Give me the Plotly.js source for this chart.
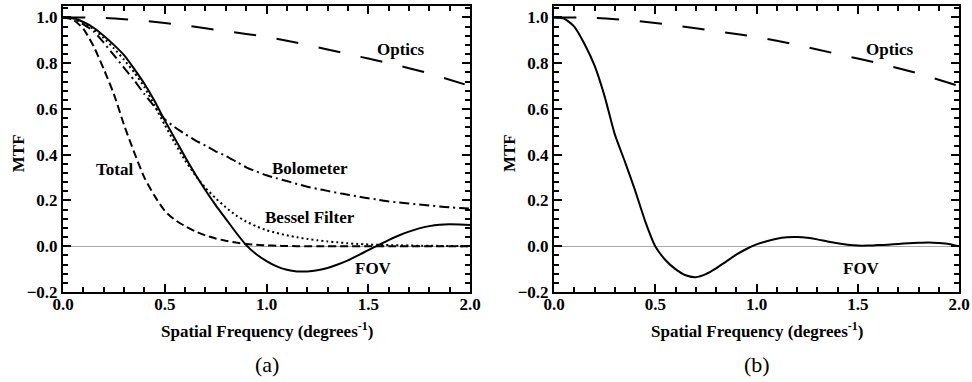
<!DOCTYPE html>
<html>
<head>
<meta charset="utf-8">
<script src="https://cdn.plot.ly/plotly-3.0.1.min.js"></script>
<style>html,body{margin:0;padding:0;background:#fff;}#wrap{position:relative;width:972px;height:382px;}#chartA{position:absolute;left:0;top:0;width:486px;height:382px;}#chartB{position:absolute;left:486px;top:0;width:486px;height:382px;}</style>
</head>
<body>
<div id="wrap"><div id="chartA"></div><div id="chartB"></div></div>
<script>
// ---- Panel (a) data ----
const freqA = [0,0.05,0.1,0.15,0.2,0.25,0.3,0.35,0.4,0.45,0.5,0.55,0.6,0.65,0.7,0.75,0.8,0.85,0.9,0.95,1.0,1.05,1.1,1.15,1.2,1.25,1.3,1.35,1.4,1.45,1.5,1.55,1.6,1.65,1.7,1.75,1.8,1.85,1.9,1.95,2.0];
const fovA = [1.0,0.998,0.98,0.955,0.92,0.88,0.835,0.775,0.71,0.635,0.55,0.47,0.39,0.315,0.245,0.18,0.12,0.06,0.005,-0.035,-0.065,-0.088,-0.103,-0.11,-0.11,-0.105,-0.095,-0.08,-0.062,-0.04,-0.017,0.005,0.027,0.047,0.064,0.078,0.088,0.094,0.096,0.095,0.093];
const besselA = [1.0,0.996,0.978,0.95,0.91,0.865,0.815,0.76,0.695,0.615,0.53,0.45,0.375,0.31,0.255,0.21,0.17,0.135,0.108,0.087,0.07,0.058,0.048,0.039,0.032,0.026,0.021,0.017,0.013,0.01,0.008,0.006,0.005,0.004,0.003,0.0025,0.002,0.0015,0.001,0.0005,0.0];
const boloA = [1.0,0.995,0.97,0.94,0.89,0.835,0.78,0.725,0.665,0.61,0.555,0.52,0.49,0.463,0.44,0.415,0.395,0.37,0.345,0.327,0.31,0.297,0.285,0.272,0.26,0.251,0.242,0.233,0.225,0.217,0.21,0.203,0.196,0.191,0.187,0.182,0.178,0.174,0.17,0.167,0.165];
const totalA = [1.0,0.99,0.95,0.875,0.775,0.665,0.53,0.41,0.3,0.22,0.155,0.115,0.088,0.065,0.047,0.034,0.024,0.016,0.01,0.006,0.004,0.002,0.001,0.0005,0,0,0,0,0,0,0,0,0,0,0,0,0,0,0,0,0];
const freqOptics = [0,0.2,0.4,0.6,0.8,1.0,1.2,1.4,1.6,1.8,2.0];
const optics = [1.0,0.998,0.985,0.965,0.94,0.915,0.88,0.84,0.80,0.755,0.70];

// ---- Panel (b) data ----
const freqB = [0,0.05,0.1,0.15,0.2,0.25,0.3,0.35,0.4,0.45,0.5,0.55,0.6,0.65,0.7,0.75,0.8,0.85,0.9,0.95,1.0,1.05,1.1,1.15,1.2,1.25,1.3,1.35,1.4,1.45,1.5,1.55,1.6,1.65,1.7,1.75,1.8,1.85,1.9,1.95,2.0];
const fovB = [1.0,0.995,0.96,0.885,0.79,0.655,0.49,0.37,0.245,0.11,0.0,-0.06,-0.1,-0.127,-0.135,-0.122,-0.097,-0.067,-0.037,-0.012,0.008,0.022,0.033,0.039,0.04,0.037,0.03,0.021,0.013,0.007,0.003,0.003,0.005,0.007,0.01,0.013,0.015,0.016,0.014,0.01,0.0];

const labelsA = [
  {text:'Optics', x:1.66, y:0.86},
  {text:'Total', x:0.254, y:0.335},
  {text:'Bolometer', x:1.213, y:0.338},
  {text:'Bessel Filter', x:1.213, y:0.124},
  {text:'FOV', x:1.525, y:-0.099}
];
const labelsB = [
  {text:'Optics', x:1.66, y:0.86},
  {text:'FOV', x:1.52, y:-0.099}
];

const SERIF = "'Liberation Serif', serif";
const blk = '#000000';
const clear = 'rgba(0,0,0,0)';

function line(x, y, dash) {
  return {x:x, y:y, type:'scatter', mode:'lines',
    line:{color:blk, width:2, dash:dash, shape:'spline', smoothing:0.6}, hoverinfo:'skip', showlegend:false};
}

function makeLayout(labels, tag, marginL, marginR, mtfX) {
  const ann = labels.map(l => ({text:l.text, x:l.x, y:l.y, xref:'x', yref:'y', showarrow:false,
    xanchor:'center', yanchor:'middle', font:{family:SERIF, size:17, color:blk, weight:'bold'}}));
  ann.push({text:'Spatial Frequency (degrees<sup>-1</sup>)', x:0.5, y:-38/286, xref:'paper', yref:'paper',
    xanchor:'center', yanchor:'middle', showarrow:false, font:{family:SERIF, size:17, color:blk, weight:'bold'}});
  ann.push({text:tag, x:0.5, y:-72/286, xref:'paper', yref:'paper',
    xanchor:'center', yanchor:'middle', showarrow:false, font:{family:SERIF, size:22, color:blk}});
  ann.push({text:'MTF', x:mtfX, y:0.486, xref:'paper', yref:'paper', textangle:-90,
    xanchor:'center', yanchor:'middle', showarrow:false, font:{family:SERIF, size:17, color:blk, weight:'bold'}});
  return {
    width:486, height:382, margin:{l:marginL, r:marginR, t:6, b:90},
    paper_bgcolor:'white', plot_bgcolor:clear, showlegend:false,
    xaxis:{range:[0,2], gridcolor:clear, zeroline:false,
      showline:true, linecolor:blk, linewidth:2, mirror:'ticks',
      ticks:'inside', ticklen:8, tickwidth:1.5, tickcolor:blk, dtick:0.5, tickformat:'.1f',
      ticklabelstandoff:-4,
      tickfont:{family:SERIF, size:17, color:blk, weight:'bold'},
      minor:{dtick:0.1, ticks:'inside', ticklen:5, tickwidth:1.5, tickcolor:blk}},
    yaxis:{range:[-0.2,1.05], gridcolor:clear,
      zeroline:true, zerolinecolor:'#aaaaaa', zerolinewidth:1,
      showline:true, linecolor:blk, linewidth:2, mirror:'ticks',
      ticks:'inside', ticklen:8, tickwidth:1.5, tickcolor:blk, dtick:0.2, tickformat:'.1f',
      tickfont:{family:SERIF, size:17, color:blk, weight:'bold'},
      minor:{dtick:0.04, ticks:'inside', ticklen:5, tickwidth:1.5, tickcolor:blk}},
    annotations:ann
  };
}

const tracesA = [
  line(freqOptics, optics, '22px,21px'),
  line(freqA, boloA, '10px,4px,2px,4px'),
  line(freqA, besselA, '2px,3px'),
  line(freqA, totalA, '8px,4px'),
  line(freqA, fovA, 'solid')
];
const tracesB = [
  line(freqOptics, optics, '22px,21px'),
  line(freqB, fovB, 'solid')
];

const cfg = {displayModeBar:false, responsive:false};
Plotly.newPlot('chartA', tracesA, makeLayout(labelsA, '(a)', 63, 16, -0.11), cfg);
Plotly.newPlot('chartB', tracesB, makeLayout(labelsB, '(b)', 68, 13, -0.111), cfg);
</script>
</body>
</html>
